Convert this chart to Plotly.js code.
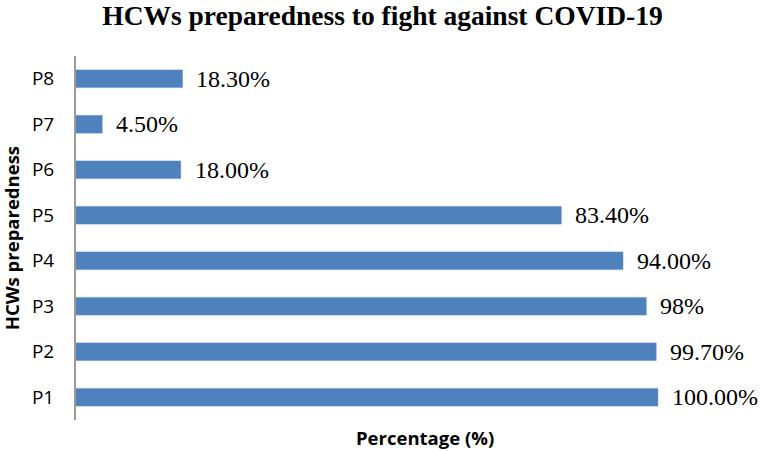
<!DOCTYPE html>
<html><head><meta charset="utf-8">
<script src="https://cdn.plot.ly/plotly-3.0.1.min.js"></script>
<style>body{margin:0;background:#fff}#c{width:765px;height:451px}</style>
</head><body><div id="c"></div>
<script>
const categories = ['P1','P2','P3','P4','P5','P6','P7','P8'];
const values = [100, 99.7, 98, 94, 83.4, 18, 4.5, 18.3];
const labels = ['100.00%','99.70%','98%','94.00%','83.40%','18.00%','4.50%','18.30%'];

const trace = {
  type: 'bar', orientation: 'h',
  x: values, y: categories,
  marker: {color: '#4f81bd', line: {color: '#5b8fcc', width: 0.5}},
  width: 0.39, hoverinfo: 'none'
};
const ann = values.map((v, i) => ({
  x: v, y: categories[i], xref: 'x', yref: 'y',
  text: labels[i], showarrow: false, xanchor: 'left', xshift: 12,
  font: {family: 'Liberation Serif, Times New Roman, serif', size: 24, color: '#000'}
}));
ann.push({
  text: 'Percentage (%)', xref: 'paper', yref: 'paper', x: 0.507, y: -0.047,
  xanchor: 'center', yanchor: 'middle', showarrow: false,
  font: {family: 'Open Sans, sans-serif', size: 18.5, color: '#000', weight: 'bold'}
});
ann.push({
  text: 'HCWs preparedness', xref: 'paper', yref: 'paper', x: -0.094, y: 0.5,
  xanchor: 'center', yanchor: 'middle', showarrow: false, textangle: -90,
  font: {family: 'Open Sans, sans-serif', size: 18.5, color: '#000', weight: 'bold'}
});
const layout = {
  width: 765, height: 451,
  margin: {l: 76, r: 0, t: 56, b: 31},
  paper_bgcolor: '#fff', plot_bgcolor: '#fff',
  showlegend: false,
  title: {text: '<b>HCWs preparedness to fight against COVID-19</b>', x: 0.5, xanchor: 'center', y: 0.966, yanchor: 'middle',
    font: {family: 'Liberation Serif, Times New Roman, serif', size: 27.5, color: '#000'}},
  xaxis: {range: [0, 118.4], showticklabels: false, showgrid: false, zeroline: false, showline: false, ticks: ''},
  yaxis: {categoryorder: 'array', categoryarray: categories, range: [-0.5, 7.5],
    showline: true, linecolor: '#9a9a9a', linewidth: 2, ticks: '', showgrid: false, zeroline: false,
    ticklabelstandoff: 16,
    tickfont: {family: 'Open Sans, sans-serif', size: 19, color: '#000'}},
  annotations: ann
};
Plotly.newPlot('c', [trace], layout, {staticPlot: true});
</script></body></html>
